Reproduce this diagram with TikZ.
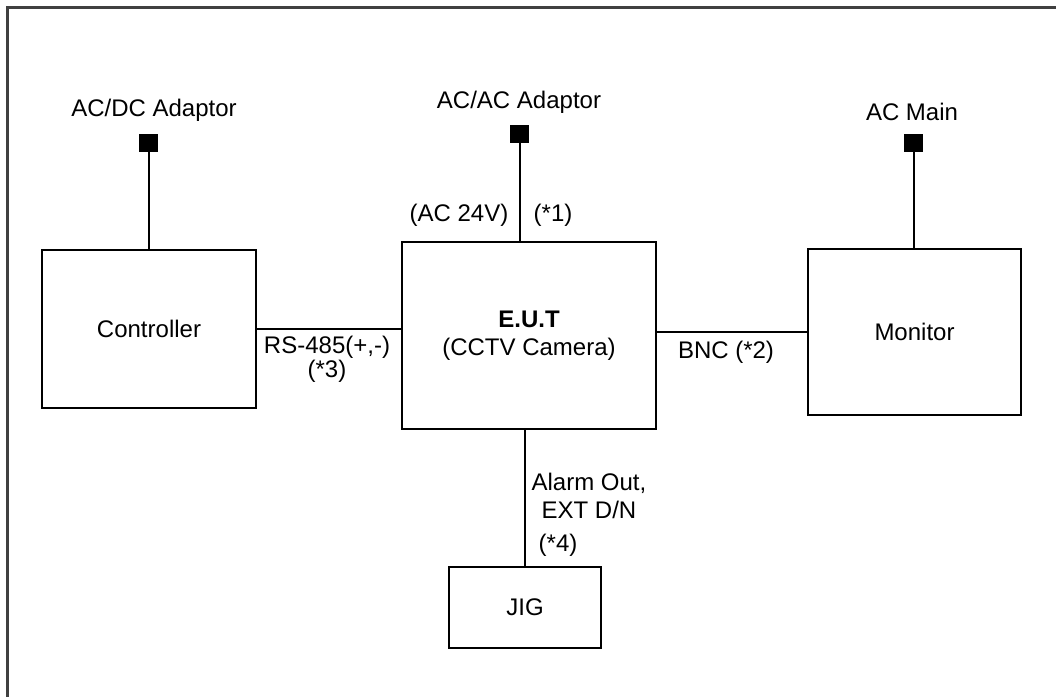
\documentclass[tikz,border=0pt]{standalone}
\usepackage{fontspec}
\setmainfont{Liberation Sans}
\begin{document}
\begin{tikzpicture}[x=1pt,y=-1pt,
  every node/.style={font=\fontsize{24}{28.5}\selectfont, inner sep=0pt},
  box/.style={draw, line width=2pt, align=center},
  plug/.style={fill=black, draw=none, minimum width=19pt, minimum height=18pt},
  conn/.style={line width=2pt},
  frame/.style={line width=3pt, draw=black!75},
  lbl/.style={align=center}]
\useasboundingbox (0,0) rectangle (1056,696);
\draw[frame] (7,700) -- (7,7) -- (1060,7);

% boxes
\node[box, minimum width=214pt, minimum height=158pt] (ctrl) at (149,329) {Controller};
\node[box, minimum width=254pt, minimum height=187pt] (eut) at (529,335.5) {\textbf{E.U.T}\\(CCTV Camera)};
\node[box, minimum width=213pt, minimum height=166pt] (mon) at (914.5,332) {Monitor};
\node[box, minimum width=152pt, minimum height=81pt] (jig) at (525,607.5) {JIG};

% plugs
\node[plug] (acdc) at (148.5,143) {};
\node[plug] (acac) at (519.5,133.5) {};
\node[plug] (acmain) at (913.5,143) {};

% plug labels
\node[lbl] (tacdc) at (154,110) {AC/DC Adaptor};
\node[lbl] (tacac) at (519,102) {AC/AC Adaptor};
\node[lbl] (tacmain) at (912,112) {AC Main};

% connectors
\draw[conn] (acdc) -- (acdc |- ctrl.north);
\draw[conn] (acac) -- (acac |- eut.north);
\draw[conn] (acmain) -- (acmain |- mon.north);
\draw[conn] (ctrl.east) -- (ctrl.east -| eut.west);
\draw[conn] (eut.east |- mon.west) -- (mon.west);
\draw[conn] (jig.north) -- (jig.north |- eut.south);

% connector labels
\node[lbl] (t24v) at (459,215) {(AC 24V)};
\node[lbl] (t1) at (553,215) {(*1)};
\node[lbl] (trs) at (327,347) {RS-485(+,-)};
\node[lbl] (t3) at (327,371) {(*3)};
\node[lbl] (tbnc) at (726,352) {BNC (*2)};
\node[lbl] (talarm) at (589,496) {Alarm Out,\\EXT D/N};
\node[lbl] (t4) at (558,545) {(*4)};
\end{tikzpicture}
\end{document}
